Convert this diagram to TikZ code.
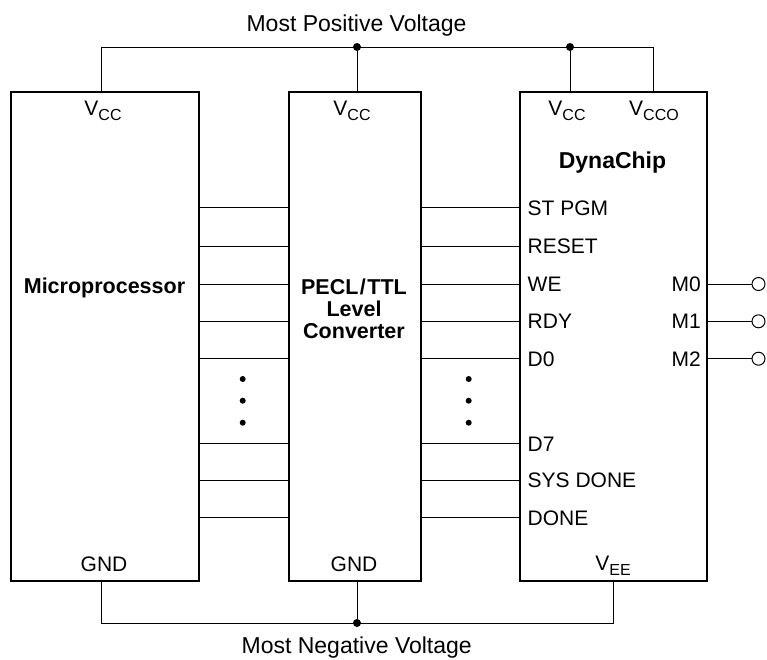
\documentclass[tikz,border=0pt]{standalone}
\usepackage{fontspec}
\setmainfont{Liberation Sans}
\newcommand{\subtxt}[1]{\raisebox{-5pt}{\fontsize{16}{16}\selectfont #1}}
\begin{document}
\begin{tikzpicture}[x=1pt,y=-1pt,
  box/.style={draw, line width=2pt, inner sep=0pt},
  wire/.style={line width=1pt},
  lbl/.style={font=\fontsize{21}{22}\selectfont, inner sep=0pt},
  ttl/.style={font=\fontsize{23}{24}\selectfont, inner sep=0pt},
  bld/.style={font=\fontsize{21.5}{22}\selectfont\bfseries, inner sep=0pt, align=center},
  jdot/.style={circle, fill, inner sep=0pt, minimum size=8pt},
  edot/.style={circle, fill, inner sep=0pt, minimum size=6pt},
  term/.style={circle, draw, line width=1pt, inner sep=0pt, minimum size=13pt, fill=white}]
\useasboundingbox (0,0) rectangle (767,659);
\fill[white] (0,0) rectangle (767,659);

% boxes
\node[box, minimum width=188pt, minimum height=489pt] (mp) at (105,336.5) {};
\node[box, minimum width=132pt, minimum height=489pt] (cv) at (355,336.5) {};
\node[box, minimum width=187pt, minimum height=489pt] (dc) at (613.5,336.5) {};

% power rail
\coordinate (pl) at (101.7,47);
\coordinate (pr) at (653,47);
\node[jdot] (j1) at (357,47) {};
\node[jdot] (j2) at (570,47) {};
\draw[wire] (mp.north -| pl) -- (pl) -- (pr) -- (dc.north -| pr);
\draw[wire] (j1) -- (cv.north -| j1);
\draw[wire] (j2) -- (dc.north -| j2);

% ground rail
\coordinate (gl) at (101.7,623);
\coordinate (gr) at (613,623);
\node[jdot] (j3) at (357,623) {};
\draw[wire] (mp.south -| gl) -- (gl) -- (gr) -- (dc.south -| gr);
\draw[wire] (j3) -- (cv.south -| j3);

% signal wires
\foreach \y [count=\i] in {207.3,246.3,284,321.3,358.7,443.3,480,517.3} {
  \coordinate (s\i) at (0,\y);
  \draw[wire] (mp.east |- s\i) -- (cv.west |- s\i);
  \draw[wire] (cv.east |- s\i) -- (dc.west |- s\i);
}

% ellipsis dots
\foreach \y [count=\i] in {379,400.7,422.7} {
  \node[edot] (el\i) at (242.7,\y) {};
  \node[edot] (er\i) at (468.7,\y) {};
}

% outputs
\node[term] (t0) at (758.5,284) {};
\node[term] (t1) at (758.5,321.3) {};
\node[term] (t2) at (758.5,358.7) {};
\draw[wire] (dc.east |- t0) -- (t0);
\draw[wire] (dc.east |- t1) -- (t1);
\draw[wire] (dc.east |- t2) -- (t2);

% titles
\node[ttl, anchor=base] (pos) at (356.5,31.7) {Most Positive Voltage};
\node[ttl, anchor=base] (neg) at (356.7,653) {Most Negative Voltage};

% supply labels
\node[lbl, anchor=base] (vcc1) at (103,115) {V\subtxt{CC}};
\node[lbl, anchor=base] (vcc2) at (352,115) {V\subtxt{CC}};
\node[lbl, anchor=base] (vcc3) at (567,115) {V\subtxt{CC}};
\node[lbl, anchor=base] (vcco) at (654,115) {V\subtxt{CCO}};
\node[lbl, anchor=base] (gnd1) at (104,571) {GND};
\node[lbl, anchor=base] (gnd2) at (354,571) {GND};
\node[lbl, anchor=base] (vee) at (613,570.7) {V\subtxt{EE}};

% block titles
\node[bld, anchor=base] (mpt) at (104.5,293.3) {Microprocessor};
\node[bld, anchor=center] (cvt) at (354,309) {PECL\kern1.5pt/\kern1.5pt TTL\\Level\\Converter};
\node[bld, anchor=base, font=\fontsize{23}{24}\selectfont\bfseries] (dct) at (612.5,168.3) {DynaChip};

% pin labels
\node[lbl, anchor=base west] (pst) at (527.5,215.5) {ST PGM};
\node[lbl, anchor=base west] (prs) at (527.5,253.5) {RESET};
\node[lbl, anchor=base west] (pwe) at (527.5,291.5) {WE};
\node[lbl, anchor=base west] (prd) at (527.5,328.8) {RDY};
\node[lbl, anchor=base west] (pd0) at (527.5,366) {D0};
\node[lbl, anchor=base west] (pd7) at (527.5,451) {D7};
\node[lbl, anchor=base west] (psd) at (527.5,487.5) {SYS DONE};
\node[lbl, anchor=base west] (pdn) at (527.5,525) {DONE};
\node[lbl, anchor=base east] (pm0) at (701,291.5) {M0};
\node[lbl, anchor=base east] (pm1) at (701,328.8) {M1};
\node[lbl, anchor=base east] (pm2) at (701,366) {M2};
\end{tikzpicture}
\end{document}
